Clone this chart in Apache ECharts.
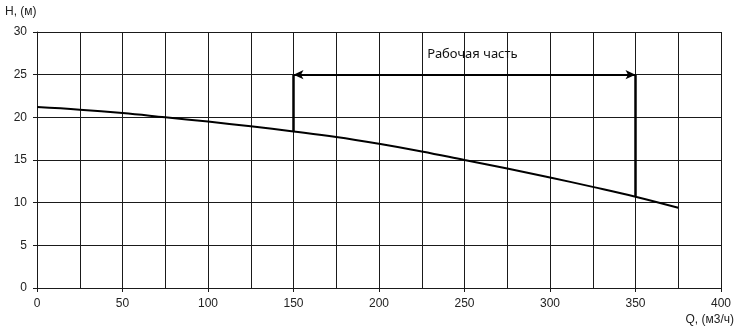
<!DOCTYPE html>
<html><head><meta charset="utf-8">
<script src="https://cdn.jsdelivr.net/npm/echarts@6/dist/echarts.min.js"></script>
<style>html,body{margin:0;padding:0;background:#fff}#c{width:738px;height:326px}</style>
</head><body><div id="c"></div>
<script>
const flowQ = [0, 25, 50, 75, 100, 125, 150, 175, 200, 225, 250, 275, 300, 325, 350, 375];
const headH = [21.2, 20.9, 20.5, 20.0, 19.5, 18.95, 18.35, 17.7, 16.9, 16.0, 15.0, 14.0, 12.95, 11.85, 10.7, 9.4];
const workStartQ = 150, workEndQ = 350, workLevelH = 25;
const workStartH = 18.35, workEndH = 10.7;
const workLabel = 'Рабочая часть';
const xName = 'Q, (м3/ч)', yName = 'H, (м)';

const chart = echarts.init(document.getElementById('c'));
const gridLine = {color: '#1a1a1a', width: 1};
chart.setOption({
  animation: false,
  grid: {left: 37, right: 17, top: 32, bottom: 36},
  xAxis: {
    type: 'value', min: 0, max: 400, interval: 50,
    axisLine: {show: true, onZero: false, lineStyle: {color: '#1a1a1a', width: 1}},
    axisTick: {show: true, length: 4, lineStyle: {color: '#1a1a1a'}},
    minorTick: {show: false, splitNumber: 2},
    splitLine: {show: true, lineStyle: gridLine},
    minorSplitLine: {show: true, lineStyle: gridLine},
    axisLabel: {color: '#222', fontFamily: 'Liberation Sans', fontSize: 12, margin: 10},
    name: xName, nameLocation: 'end', nameGap: 0,
    nameTextStyle: {color: '#222', fontFamily: 'Liberation Sans', fontSize: 12, align: 'right', verticalAlign: 'top', padding: [26, -13, 0, 0]}
  },
  yAxis: {
    type: 'value', min: 0, max: 30, interval: 5,
    axisLine: {show: true, lineStyle: {color: '#1a1a1a', width: 1}},
    axisTick: {show: true, length: 4, lineStyle: {color: '#1a1a1a'}},
    splitLine: {show: true, lineStyle: gridLine},
    axisLabel: {color: '#222', fontFamily: 'Liberation Sans', fontSize: 12, margin: 10},
    name: yName, nameLocation: 'end', nameGap: 14,
    nameTextStyle: {color: '#222', fontFamily: 'Liberation Sans', fontSize: 12, align: 'left', padding: [0, 0, 0, -32]}
  },
  series: [
    {type: 'line', data: flowQ.map((q, i) => [q, headH[i]]), smooth: 0.4, symbol: 'none',
     lineStyle: {color: '#000', width: 2}, z: 5},
    {type: 'line', data: [[workStartQ, workStartH], [workStartQ, workLevelH]], symbol: 'none',
     lineStyle: {color: '#000', width: 2.5}, z: 6},
    {type: 'line', data: [[workEndQ, workEndH], [workEndQ, workLevelH]], symbol: 'none',
     lineStyle: {color: '#000', width: 2.5}, z: 6,
     markLine: {
       silent: true, symbol: ['arrow', 'arrow'], symbolSize: [7, 10], precision: 2,
       lineStyle: {color: '#000', width: 2, type: 'solid'},
       label: {show: true, position: 'middle', formatter: workLabel, distance: 14,
               color: '#111', fontFamily: 'Noto Sans', fontSize: 13, padding: [0, 0, 0, 16]},
       data: [[{coord: [workStartQ, workLevelH]}, {coord: [workEndQ, workLevelH]}]]
     }}
  ]
});
</script></body></html>
